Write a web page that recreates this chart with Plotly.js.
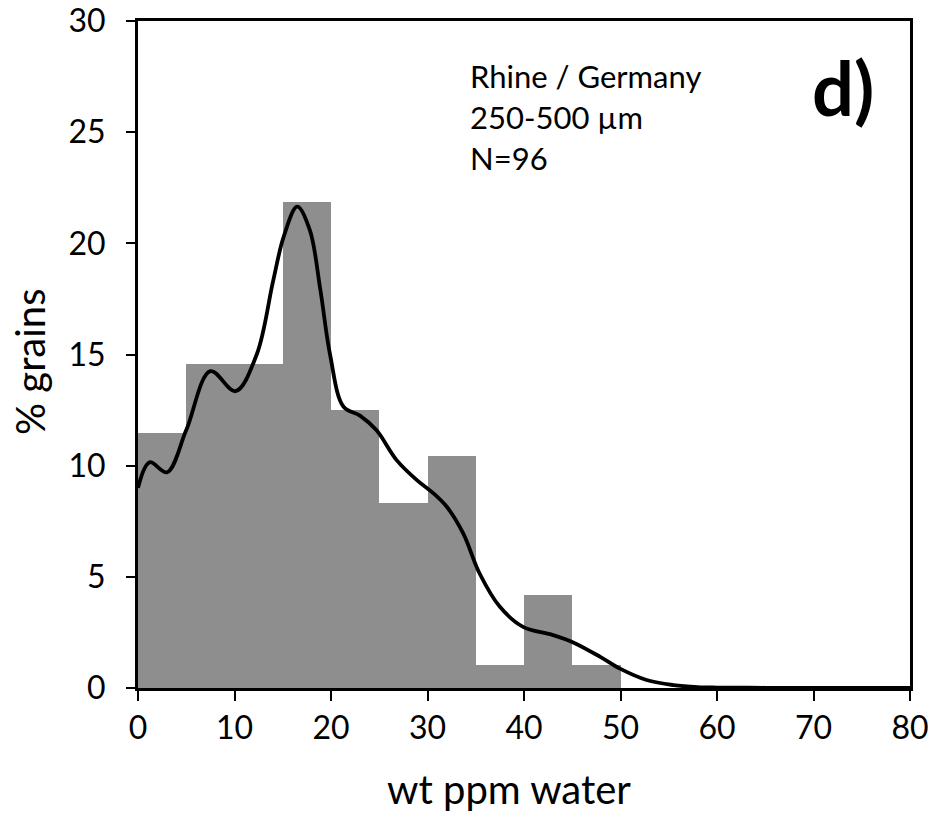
<!DOCTYPE html>
<html>
<head>
<meta charset="utf-8">
<script src="https://cdn.plot.ly/plotly-3.0.1.min.js"></script>
<style>html,body{margin:0;padding:0;background:#fff;}#chart{width:934px;height:814px;}</style>
</head>
<body>
<div id="chart"></div>
<script>
// Histogram bins (wt ppm water), bin centres and % grains
var binCenters = [2.5, 7.5, 12.5, 17.5, 22.5, 27.5, 32.5, 37.5, 42.5, 47.5];
var binPercent = [11.46, 14.58, 14.58, 21.88, 12.50, 8.33, 10.42, 1.04, 4.17, 1.04];

// Kernel density curve
var kdeX = [0, 1.2, 3.0, 5.0, 7.5, 10.1, 12.3, 14.0, 15.1, 16.5, 17.8, 18.9, 19.9, 21.3, 23.0, 24.7, 26.8, 28.9, 30.5, 32.0, 33.7, 35.4, 37.5, 39.9, 43.0, 45.1, 47.9, 49.9, 52.7, 55.5, 58.0, 60, 65, 70, 75, 80];
var kdeY = [9.0, 10.15, 9.7, 11.6, 14.25, 13.35, 15.0, 18.3, 20.3, 21.65, 20.6, 17.9, 15.0, 12.65, 12.25, 11.6, 10.25, 9.35, 8.8, 8.15, 6.95, 5.15, 3.65, 2.75, 2.38, 2.05, 1.4, 0.88, 0.36, 0.13, 0.04, 0.02, 0.01, 0, 0, 0];

var xTicks = [0, 10, 20, 30, 40, 50, 60, 70, 80];
var yTicks = [0, 5, 10, 15, 20, 25, 30];

var FONT = 'Lato, "Open Sans", sans-serif';

var traces = [
  {
    type: 'bar',
    x: binCenters,
    y: binPercent,
    width: 5,
    marker: {color: '#8e8e8e', line: {width: 0}},
    hoverinfo: 'x+y'
  },
  {
    type: 'scatter',
    mode: 'lines',
    x: kdeX,
    y: kdeY,
    line: {color: '#000000', width: 3.8, shape: 'spline', smoothing: 1},
    hoverinfo: 'x+y'
  }
];

var layout = {
  width: 934,
  height: 814,
  margin: {l: 138, r: 24, t: 21, b: 126},
  paper_bgcolor: '#ffffff',
  plot_bgcolor: '#ffffff',
  showlegend: false,
  bargap: 0,
  font: {family: FONT, color: '#000000', size: 32},
  xaxis: {
    range: [0, 80],
    tickvals: xTicks,
    ticktext: xTicks.map(String),
    ticks: 'outside',
    ticklen: 10,
    tickwidth: 2,
    tickcolor: '#000',
    ticklabelstandoff: 0,
    showline: true,
    linecolor: '#000',
    linewidth: 3,
    mirror: true,
    showgrid: false,
    zeroline: false,
    tickfont: {family: FONT, size: 32, color: '#000'}
  },
  yaxis: {
    range: [0, 30],
    tickvals: yTicks,
    ticktext: yTicks.map(String),
    ticks: 'outside',
    ticklen: 9,
    tickwidth: 2,
    tickcolor: '#000',
    ticklabelstandoff: 14,
    showline: true,
    linecolor: '#000',
    linewidth: 3,
    mirror: true,
    showgrid: false,
    zeroline: false,
    tickfont: {family: FONT, size: 32, color: '#000'}
  },
  annotations: [
    {x: 0.481, y: -0.1514, xref: 'paper', yref: 'paper', text: 'wt ppm water', showarrow: false, xanchor: 'center', yanchor: 'middle', font: {family: FONT, size: 40, color: '#000'}},
    {x: -0.1399, y: 0.4888, xref: 'paper', yref: 'paper', text: '% grains', textangle: -90, showarrow: false, xanchor: 'center', yanchor: 'middle', font: {family: FONT, size: 40, color: '#000'}},
    {x: 34.2, y: 27.53, xref: 'x', yref: 'y', text: 'Rhine / Germany', showarrow: false, xanchor: 'left', yanchor: 'middle', font: {family: FONT, size: 31, color: '#000'}},
    {x: 34.2, y: 25.69, xref: 'x', yref: 'y', text: '250-500 µm', showarrow: false, xanchor: 'left', yanchor: 'middle', font: {family: FONT, size: 31, color: '#000'}},
    {x: 34.2, y: 23.84, xref: 'x', yref: 'y', text: 'N=96', showarrow: false, xanchor: 'left', yanchor: 'middle', font: {family: FONT, size: 31, color: '#000'}},
    {x: 73.1, y: 27.0, xref: 'x', yref: 'y', text: '<b>d)</b>', showarrow: false, xanchor: 'center', yanchor: 'middle', font: {family: FONT, size: 74, color: '#000'}}
  ]
};

Plotly.newPlot('chart', traces, layout, {displayModeBar: false, staticPlot: true});
</script>
</body>
</html>
